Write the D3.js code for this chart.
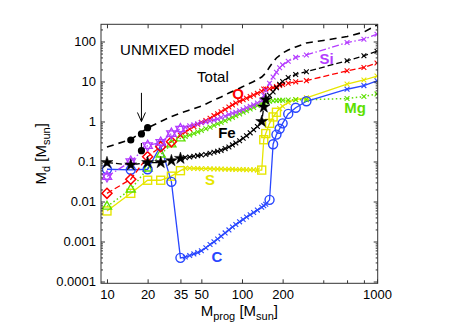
<!DOCTYPE html>
<html><head><meta charset="utf-8">
<script src="https://cdn.jsdelivr.net/npm/d3@7"></script>
<style>
body{margin:0;background:#fff}
svg{display:block}
text{font-family:"Liberation Sans",Arial,Helvetica,sans-serif}
</style>
</head><body>
<svg id="chart" width="463" height="327"></svg>
<script>
// ---------- data ----------
const lowMass  = [10, 15, 20, 25, 30, 35];
const midMass  = [38, 41, 44, 47, 50, 54, 58, 62, 66, 70, 75, 80, 85, 90, 96, 102, 108, 115, 122, 130, 140];
const pisnMass = [145, 150, 160, 170, 180, 190, 200, 220, 250, 300];
const highMass = [600, 800, 1000];

const cLow  = [0.064, 0.062, 0.064, 0.25, 0.031, 0.00039];
const cMid  = [0.00041, 0.000447, 0.00049, 0.00053, 0.000585, 0.0007, 0.00084, 0.00098, 0.00115, 0.00136, 0.00164, 0.00195, 0.0023, 0.00265, 0.0031, 0.00355, 0.0041, 0.00465, 0.0053, 0.0061, 0.0072];
const cPisn = [0.0078, 0.0085, 0.011, 0.27, 0.47, 0.66, 0.9, 1.55, 2.2, 3.2];
const cHigh = [6.4, 7.9, 10.4];
const cBig  = [10, 15, 20, 25, 30, 35, 160, 170, 180, 190, 200, 220, 250, 300];

const sLow  = [0.0058, 0.016, 0.034, 0.034, 0.043, 0.059];
const sMid  = [0.068, 0.068, 0.067, 0.067, 0.066, 0.066, 0.066, 0.065, 0.065, 0.065, 0.064, 0.064, 0.064, 0.063, 0.063, 0.063, 0.062, 0.062, 0.062, 0.061, 0.061];
const sPisn = [0.35, 0.5, 0.9, 1.3, 1.7, 2.1, 2.4, 3.0, 3.55, 3.9];
const sHigh = [8.6, 10.9, 13.7];
const sBig  = [10, 15, 20, 25, 30, 35, 140, 145, 150, 160, 170, 180];

const feLow  = [0.094, 0.082, 0.094, 0.094, 0.105, 0.12];
const feMid  = [0.125, 0.13, 0.135, 0.14, 0.145, 0.15, 0.16, 0.17, 0.18, 0.19, 0.21, 0.23, 0.26, 0.29, 0.33, 0.38, 0.44, 0.52, 0.62, 0.75, 1.0];
const fePisn = [2.3, 3.5, 4.5, 5.5, 7, 8.5, 10, 12.5, 15, 17.6];
const feHigh = [33, 44, 57];
const feBig  = [10, 15, 20, 25, 30, 35, 140, 145, 150];

const oLow  = [0.016, 0.036, 0.132, 0.235, 0.31, 0.45];
const oMid  = [0.55, 0.65, 0.75, 0.85, 0.95, 1.05, 1.2, 1.4, 1.55, 1.75, 2.0, 2.3, 2.6, 2.9, 3.2, 3.5, 3.8, 4.2, 4.6, 5.1, 5.7];
const oPisn = [6.5, 6.5, 6.6, 7, 7.5, 8, 8.4, 9, 9.8, 10.5];
const oHigh = [18.5, 22.4, 29];
const oBig  = [10, 15, 20, 25, 30];

const siLow  = [0.042, 0.10, 0.25, 0.30, 0.5, 0.65];
const siMid  = [0.72, 0.78, 0.83, 0.88, 0.93, 0.98, 1.03, 1.08, 1.15, 1.25, 1.35, 1.5, 1.6, 1.7, 1.85, 2.0, 2.2, 2.4, 2.6, 2.9, 3.3];
const siPisn = [4.5, 6, 9, 13, 17, 22, 26, 32, 40, 46];
const siHigh = [94, 114, 152];
const siBig  = [10, 15, 20, 25, 30, 35];

const mgLow  = [0.0075, 0.02, 0.067, 0.15, 0.27, 0.38];
const mgMid  = [0.42, 0.46, 0.5, 0.55, 0.6, 0.66, 0.72, 0.8, 0.88, 0.95, 1.05, 1.15, 1.27, 1.4, 1.55, 1.7, 1.85, 2.05, 2.25, 2.5, 2.85];
const mgPisn = [3.0, 3.1, 3.2, 3.3, 3.35, 3.4, 3.4, 3.45, 3.5, 3.5];
const mgHigh = [3.75, 4.2, 4.9];
const mgBig  = [10, 15, 20, 25, 30, 35];

const totalMass = [10, 12, 15, 20, 25, 30, 35, 40, 50, 60, 70, 80, 90, 100, 120, 140, 150, 160, 170, 180, 200, 220, 250, 300, 400, 600, 800, 1000];
const totalVal  = [0.23, 0.28, 0.355, 0.69, 1.0, 1.33, 1.63, 1.88, 2.41, 3.26, 4.1, 5.16, 6.1, 7.3, 9.7, 12.9, 16.3, 23, 30.6, 38.7, 51.6, 61.5, 73, 92, 106, 133, 172, 258];

const obsMass = [15, 18, 20, 18];
const obsVal  = [0.345, 0.49, 0.70, 0.186];
const obsErrTop = [null, null, null, 0.29];
const arrowMass = 18, arrowFrom = 5.2, arrowTo = 1.0;

const xTickVals = [10, 20, 35, 50, 100, 200, 1000];
const xMinorVals = [400, 600, 800];
const yTickVals = [0.0001, 0.001, 0.01, 0.1, 1, 10, 100];
const yTickLabels = ["0.0001", "0.001", "0.01", "0.1", "1", "10", "100"];

const labels = [
  {t: "UNMIXED model", m: 12.5, v: 45.9, c: "#000", w: "normal", a: "start"},
  {t: "Total", m: 60.9, v: 9.7, c: "#000", w: "normal", a: "middle"},
  {t: "O", m: 93.4, v: 3.65, c: "#ff0000", w: "bold", a: "middle"},
  {t: "Fe", m: 77.4, v: 0.387, c: "#000", w: "bold", a: "middle"},
  {t: "S", m: 57.9, v: 0.0259, c: "#e6e600", w: "bold", a: "middle"},
  {t: "C", m: 65.2, v: 0.000306, c: "#2846ff", w: "bold", a: "middle"},
  {t: "Si", m: 424, v: 27.3, c: "#b43cff", w: "bold", a: "middle"},
  {t: "Mg", m: 687, v: 1.63, c: "#5ee000", w: "bold", a: "middle"}
];

// ---------- chart ----------
const svg = d3.select("#chart");
const L = 101, R = 377.7, T = 24.3, B = 283.3;
const x = d3.scaleLog().domain([9.03, 1012]).range([L, R]);
const y = d3.scaleLog().domain([0.0000902, 269]).range([B, T]);

function build(low, mid, pisn, high) {
  return [].concat(
    lowMass.map((m, i) => [m, low[i]]),
    midMass.map((m, i) => [m, mid[i]]),
    pisnMass.map((m, i) => [m, pisn[i]]),
    highMass.map((m, i) => [m, high[i]])
  );
}

const series = [
  {color: "#e6e600", dash: null, marker: "square", pts: build(sLow, sMid, sPisn, sHigh), big: sBig},
  {color: "#5ee000", dash: "1.5,2.5", marker: "triangle", pts: build(mgLow, mgMid, mgPisn, mgHigh), big: mgBig},
  {color: "#2846ff", dash: null, marker: "circle", pts: build(cLow, cMid, cPisn, cHigh), big: cBig},
  {color: "#ff0000", dash: "6,3", marker: "diamond", pts: build(oLow, oMid, oPisn, oHigh), big: oBig},
  {color: "#b43cff", dash: "7,2.5,1.5,2.5", marker: "hexagram", pts: build(siLow, siMid, siPisn, siHigh), big: siBig},
  {color: "#000000", dash: "6,3", marker: "star", pts: build(feLow, feMid, fePisn, feHigh), big: feBig}
];

svg.append("clipPath").attr("id", "pc").append("rect")
  .attr("x", L).attr("y", T).attr("width", R - L).attr("height", B - T);
const plot = svg.append("g").attr("clip-path", "url(#pc)");

const line = d3.line().x(d => x(d[0])).y(d => y(d[1]));

function marker(g, type, cx, cy, color) {
  if (type === "cross") {
    const s = 2.4;
    g.append("path").attr("d", `M${cx - s},${cy - s}L${cx + s},${cy + s}M${cx - s},${cy + s}L${cx + s},${cy - s}`)
      .attr("stroke", color).attr("stroke-width", 1.1).attr("fill", "none");
  } else if (type === "circle") {
    g.append("circle").attr("cx", cx).attr("cy", cy).attr("r", 4.5)
      .attr("stroke", color).attr("stroke-width", 1.4).attr("fill", "none");
  } else if (type === "square") {
    g.append("rect").attr("x", cx - 4).attr("y", cy - 4).attr("width", 8).attr("height", 8)
      .attr("stroke", color).attr("stroke-width", 1.4).attr("fill", "none");
  } else if (type === "diamond") {
    const s = 5;
    g.append("path").attr("d", `M${cx},${cy - s}L${cx + s},${cy}L${cx},${cy + s}L${cx - s},${cy}Z`)
      .attr("stroke", color).attr("stroke-width", 1.5).attr("fill", "none");
  } else if (type === "triangle") {
    const s = 5.2;
    g.append("path").attr("d", `M${cx},${cy - s}L${cx + s * 0.87},${cy + s * 0.5}L${cx - s * 0.87},${cy + s * 0.5}Z`)
      .attr("stroke", color).attr("stroke-width", 1.4).attr("fill", "none");
  } else if (type === "hexagram") {
    const s = 5.4;
    const tri = a => d3.range(3).map(k => {
      const ang = a + k * 2 * Math.PI / 3;
      return [cx + s * Math.sin(ang), cy - s * Math.cos(ang)];
    });
    [0, Math.PI].forEach(a => {
      const p = tri(a);
      g.append("path").attr("d", "M" + p.map(q => q.join(",")).join("L") + "Z")
        .attr("stroke", color).attr("stroke-width", 1.3).attr("fill", "none");
    });
  } else if (type === "star") {
    g.append("path").attr("d", d3.symbol().type(d3.symbolStar).size(45)())
      .attr("transform", `translate(${cx},${cy})`).attr("fill", "#000").attr("stroke", "#000").attr("stroke-width", 0.5);
  }
}

// total
plot.append("path").datum(totalMass.map((m, i) => [m, totalVal[i]]))
  .attr("d", line).attr("fill", "none").attr("stroke", "#000")
  .attr("stroke-width", 1.6).attr("stroke-dasharray", "7,5");

series.forEach(s => {
  plot.append("path").datum(s.pts).attr("d", line).attr("fill", "none")
    .attr("stroke", s.color).attr("stroke-width", s.dash === "1.5,2.5" ? 1.5 : 1.3)
    .attr("stroke-dasharray", s.dash);
});
series.forEach(s => {
  const g = plot.append("g");
  s.pts.forEach(p => {
    const isBig = s.big.indexOf(p[0]) >= 0;
    marker(g, isBig ? s.marker : "cross", x(p[0]), y(p[1]), s.color);
  });
});

// observations
obsMass.forEach((m, i) => {
  if (obsErrTop[i] !== null) {
    plot.append("line").attr("x1", x(m)).attr("x2", x(m)).attr("y1", y(obsVal[i])).attr("y2", y(obsErrTop[i]))
      .attr("stroke", "#000").attr("stroke-width", 1.2);
  }
  plot.append("circle").attr("cx", x(m)).attr("cy", y(obsVal[i])).attr("r", 3.6).attr("fill", "#000");
});
// arrow
{
  const ax = x(arrowMass), y0 = y(arrowFrom), y1 = y(arrowTo);
  svg.append("line").attr("x1", ax).attr("x2", ax).attr("y1", y0).attr("y2", y1)
    .attr("stroke", "#000").attr("stroke-width", 1);
  svg.append("path").attr("d", `M${ax - 4},${y1 - 9}L${ax},${y1}L${ax + 4},${y1 - 9}`)
    .attr("stroke", "#000").attr("stroke-width", 1).attr("fill", "none");
}

// labels
labels.forEach(l => {
  svg.append("text").attr("x", x(l.m)).attr("y", y(l.v)).attr("text-anchor", l.a)
    .attr("font-size", 15).attr("font-weight", l.w).attr("fill", l.c).text(l.t);
});

// axes
const minorY = [];
for (let e = -5; e <= 2; e++) for (let k = 2; k <= 9; k++) {
  const v = k * Math.pow(10, e);
  if (v > y.domain()[0] && v < y.domain()[1]) minorY.push(v);
}
const axStroke = "#333";
function styleAxis(g) {
  g.select(".domain").remove();
  g.selectAll(".tick line").attr("stroke", axStroke);
  g.selectAll("text").attr("font-size", 13).attr("fill", "#000").attr("font-family", '"Liberation Sans",Arial,sans-serif');
}
svg.append("g").attr("transform", `translate(0,${B})`)
  .call(d3.axisBottom(x).tickValues(xTickVals).tickFormat(d => String(d)).tickSizeInner(-4).tickSizeOuter(0).tickPadding(6))
  .call(styleAxis);
svg.append("g").attr("transform", `translate(0,${B})`)
  .call(d3.axisBottom(x).tickValues(xMinorVals).tickFormat("").tickSizeInner(-3).tickSizeOuter(0))
  .call(styleAxis);
svg.append("g").attr("transform", `translate(0,${T})`)
  .call(d3.axisTop(x).tickValues(xTickVals.concat(xMinorVals)).tickFormat("").tickSizeInner(-4).tickSizeOuter(0))
  .call(styleAxis);
svg.append("g").attr("transform", `translate(${L},0)`)
  .call(d3.axisLeft(y).tickValues(yTickVals).tickFormat((d, i) => yTickLabels[i]).tickSizeInner(-4).tickSizeOuter(0).tickPadding(5))
  .call(styleAxis);
svg.append("g").attr("transform", `translate(${L},0)`)
  .call(d3.axisLeft(y).tickValues(minorY).tickFormat("").tickSizeInner(-2).tickSizeOuter(0))
  .call(styleAxis);
svg.append("g").attr("transform", `translate(${R},0)`)
  .call(d3.axisRight(y).tickValues(yTickVals).tickFormat("").tickSizeInner(-4).tickSizeOuter(0))
  .call(styleAxis);
svg.append("g").attr("transform", `translate(${R},0)`)
  .call(d3.axisRight(y).tickValues(minorY).tickFormat("").tickSizeInner(-2).tickSizeOuter(0))
  .call(styleAxis);
svg.append("rect").attr("x", L).attr("y", T).attr("width", R - L).attr("height", B - T)
  .attr("fill", "none").attr("stroke", axStroke).attr("stroke-width", 1);

// axis titles
const xt = svg.append("text").attr("x", (L + R) / 2).attr("y", 316).attr("text-anchor", "middle").attr("font-size", 15);
xt.append("tspan").text("M");
xt.append("tspan").attr("font-size", 11).attr("dy", 4).text("prog");
xt.append("tspan").attr("dy", -4).text(" [M");
xt.append("tspan").attr("font-size", 11).attr("dy", 4).text("sun");
xt.append("tspan").attr("dy", -4).text("]");

const yt = svg.append("text").attr("transform", `translate(46,${(T + B) / 2}) rotate(-90)`)
  .attr("text-anchor", "middle").attr("font-size", 15);
yt.append("tspan").text("M");
yt.append("tspan").attr("font-size", 11).attr("dy", 4).text("d");
yt.append("tspan").attr("dy", -4).text(" [M");
yt.append("tspan").attr("font-size", 11).attr("dy", 4).text("sun");
yt.append("tspan").attr("dy", -4).text("]");
</script>
</body></html>
